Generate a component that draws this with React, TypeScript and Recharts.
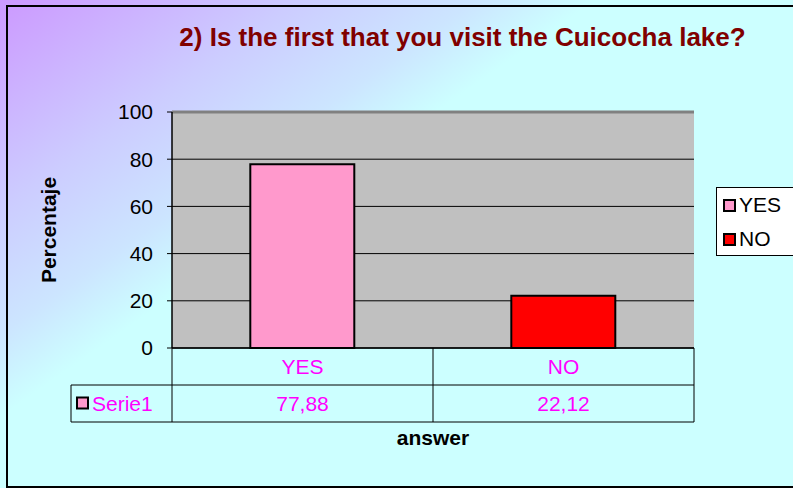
import React from "react";
import {
  BarChart,
  Bar,
  Cell,
  CartesianGrid,
  XAxis,
  YAxis,
  Legend,
  ReferenceLine,
} from "recharts";

const CATEGORIES = ["YES", "NO"];
const VALUES = [77.88, 22.12];
const VALUE_LABELS = ["77,88", "22,12"];
const SERIES_NAME = "Serie1";
const COLORS = ["#FF99CC", "#FF0000"];
const Y_TICKS = [0, 20, 40, 60, 80, 100];

const data = CATEGORIES.map((name, i) => ({ name, value: VALUES[i] }));

const W = 793;
const H = 488;
const PLOT_LEFT = 172;
const PLOT_RIGHT = 694;
const ROW_H = 37;
const KEY_CELL_W = 101;
const FONT = "Arial, 'Liberation Sans', sans-serif";
const MAGENTA = "#FF00FF";
const TEXT_SIZE = 21;

const HALF_BAND = (PLOT_RIGHT - PLOT_LEFT) / CATEGORIES.length / 2;

// data table drawn under the axis, one cell per tick
const TableTick = (props: any) => {
  const { x, y, index } = props;
  const left = x - HALF_BAND;
  const right = x + HALF_BAND;
  return (
    <g>
      {index === 0 && (
        <g>
          <line x1={left} y1={y} x2={left} y2={y + ROW_H * 2} stroke="#000" />
          <line x1={left - KEY_CELL_W} y1={y + ROW_H} x2={left} y2={y + ROW_H} stroke="#000" />
          <line x1={left - KEY_CELL_W} y1={y + ROW_H * 2} x2={left} y2={y + ROW_H * 2} stroke="#000" />
          <line x1={left - KEY_CELL_W} y1={y + ROW_H} x2={left - KEY_CELL_W} y2={y + ROW_H * 2} stroke="#000" />
          <rect
            x={left - KEY_CELL_W + 6}
            y={y + ROW_H * 1.5 - 6}
            width={11}
            height={11}
            fill={COLORS[0]}
            stroke="#000"
            strokeWidth={2}
          />
          <text
            x={left - KEY_CELL_W + 21}
            y={y + ROW_H * 1.5}
            dy="0.35em"
            fill={MAGENTA}
            fontSize={TEXT_SIZE}
            fontFamily={FONT}
          >
            {SERIES_NAME}
          </text>
        </g>
      )}
      <line x1={right} y1={y} x2={right} y2={y + ROW_H * 2} stroke="#000" />
      <line x1={left} y1={y + ROW_H} x2={right} y2={y + ROW_H} stroke="#000" />
      <line x1={left} y1={y + ROW_H * 2} x2={right} y2={y + ROW_H * 2} stroke="#000" />
      <text
        x={x}
        y={y + ROW_H * 0.5}
        dy="0.35em"
        textAnchor="middle"
        fill={MAGENTA}
        fontSize={TEXT_SIZE}
        fontFamily={FONT}
      >
        {CATEGORIES[index]}
      </text>
      <text
        x={x}
        y={y + ROW_H * 1.5}
        dy="0.35em"
        textAnchor="middle"
        fill={MAGENTA}
        fontSize={TEXT_SIZE}
        fontFamily={FONT}
      >
        {VALUE_LABELS[index]}
      </text>
    </g>
  );
};

const LegendBox = () => (
  <div
    style={{
      background: "#fff",
      border: "1px solid #000",
      width: 90,
      height: 69,
      boxSizing: "border-box",
      paddingLeft: 6,
      fontFamily: FONT,
      fontSize: TEXT_SIZE,
      color: "#000",
    }}
  >
    {CATEGORIES.map((c, i) => (
      <div key={c} style={{ display: "flex", alignItems: "center", height: 34 }}>
        <span
          style={{
            display: "inline-block",
            width: 9,
            height: 9,
            background: COLORS[i],
            border: "2px solid #000",
            marginRight: 3,
          }}
        />
        <span>{c}</span>
      </div>
    ))}
  </div>
);

const YLabel = (props: any) => {
  const vb = props.viewBox || {};
  const cy = (vb.y || 0) + (vb.height || 0) / 2;
  return (
    <text
      x={48}
      y={cy}
      transform={`rotate(-90 48 ${cy})`}
      textAnchor="middle"
      dominantBaseline="central"
      fontSize={21}
      fontWeight="bold"
      fontFamily={FONT}
      fill="#000"
    >
      Percentaje
    </text>
  );
};

export default function App() {
  return (
    <div
      style={{
        position: "absolute",
        left: 0,
        top: 0,
        width: W,
        height: H,
        overflow: "hidden",
        background:
          "linear-gradient(145deg, #CC99FF 0%, #CCCCFF 20%, #CCE5FF 32%, #CCFFFF 40%, #CCFFFF 100%)",
      }}
    >
      <div
        style={{
          position: "absolute",
          left: 6,
          top: 5,
          width: W + 20,
          height: 483,
          border: "2px solid #000",
          boxSizing: "border-box",
        }}
      />
      <div
        style={{
          position: "absolute",
          left: 0,
          top: 21,
          width: 925,
          textAlign: "center",
          fontFamily: FONT,
          fontWeight: "bold",
          fontSize: 26,
          lineHeight: "32px",
          color: "#800000",
        }}
      >
        2) Is the first that you visit the Cuicocha lake?
      </div>
      <div style={{ position: "absolute", left: 0, top: 0 }}>
        <BarChart
          width={W}
          height={H}
          data={data}
          margin={{ top: 112, right: W - PLOT_RIGHT, bottom: 66, left: 0 }}
          barCategoryGap="30%"
        >
          <CartesianGrid vertical={false} stroke="#000" fill="#C0C0C0" />
          <XAxis
            dataKey="name"
            height={ROW_H * 2}
            axisLine={{ stroke: "#000", strokeWidth: 1.5 }}
            tickLine={false}
            tickSize={0}
            tickMargin={0}
            interval={0}
            tick={<TableTick />}
            label={{
              value: "answer",
              position: "bottom",
              offset: 8,
              fontSize: 21,
              fontWeight: "bold",
              fontFamily: FONT,
              fill: "#000",
            }}
          />
          <YAxis
            width={PLOT_LEFT}
            domain={[0, 100]}
            ticks={Y_TICKS}
            axisLine={{ stroke: "#000", strokeWidth: 1.5 }}
            tickLine={{ stroke: "#000" }}
            tickSize={5}
            tickMargin={14}
            tick={{ fill: "#000", fontSize: TEXT_SIZE, fontFamily: FONT }}
            label={<YLabel />}
          />
          <YAxis
            yAxisId="r"
            orientation="right"
            width={0}
            domain={[0, 100]}
            tick={false}
            tickLine={false}
            axisLine={{ stroke: "#808080", strokeWidth: 3 }}
          />
          <ReferenceLine y={100} stroke="#808080" strokeWidth={3} />
          <Bar
            dataKey="value"
            stroke="#000"
            strokeWidth={2}
            isAnimationActive={false}
          >
            {data.map((d, i) => (
              <Cell key={d.name} fill={COLORS[i]} />
            ))}
          </Bar>
          <Legend
            content={<LegendBox />}
            wrapperStyle={{
              position: "absolute",
              left: 716,
              top: 187,
              width: 90,
              height: 0,
              overflow: "visible",
            }}
          />
        </BarChart>
      </div>
    </div>
  );
}
